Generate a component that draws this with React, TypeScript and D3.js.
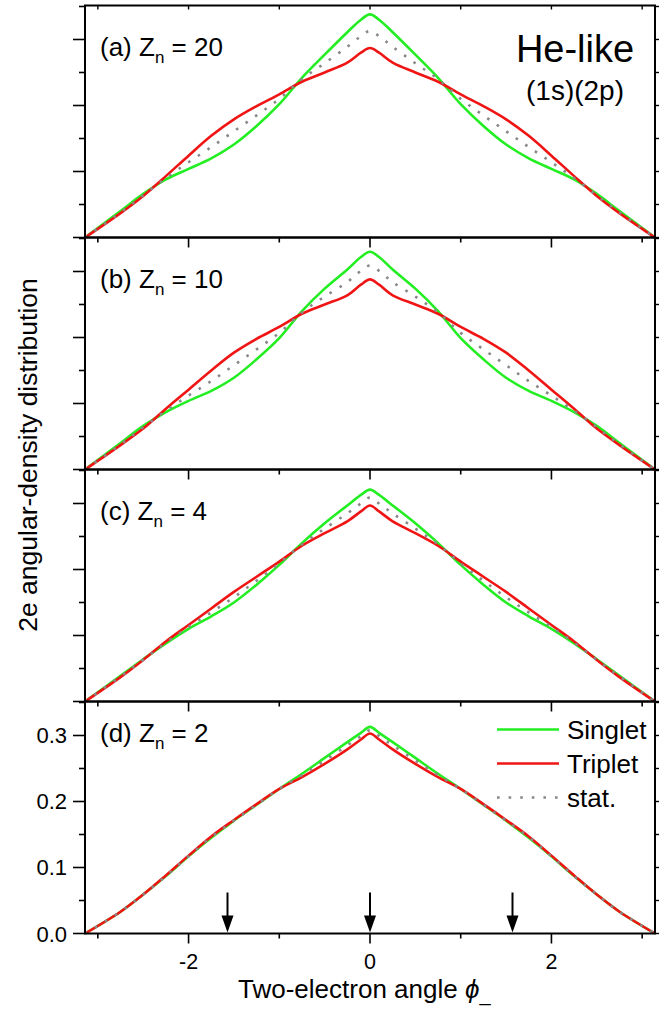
import React from 'react'
import * as d3 from 'd3'

// two-electron angle grid (rad)
const phi = [-3.1416, -2.75, -2.5, -2.25, -2, -1.75, -1.5, -1.25, -1, -0.75, -0.5, -0.25, -0.1, 0,
  0.1, 0.25, 0.5, 0.75, 1, 1.25, 1.5, 1.75, 2, 2.25, 2.5, 2.75, 3.1416]

// (a) Zn = 20
const singletA = [0, .040, .066, .088, .104, .120, .141, .169, .202, .242, .277, .311, .330, .338,
  .330, .311, .277, .242, .202, .169, .141, .120, .104, .088, .066, .040, 0]
const tripletA = [0, .037, .063, .093, .124, .154, .179, .199, .217, .236, .250, .265, .280, .287,
  .280, .265, .250, .236, .217, .199, .179, .154, .124, .093, .063, .037, 0]
const statA = [0, .038, .064, .090, .114, .137, .161, .185, .210, .240, .264, .289, .305, .313,
  .305, .289, .264, .240, .210, .185, .161, .137, .114, .090, .064, .038, 0]

// (b) Zn = 10
const singletB = [0, .040, .066, .087, .104, .119, .139, .167, .199, .240, .274, .303, .322, .330,
  .322, .303, .274, .240, .199, .167, .139, .119, .104, .087, .066, .040, 0]
const tripletB = [0, .037, .062, .092, .121, .150, .177, .198, .216, .236, .250, .264, .280, .288,
  .280, .264, .250, .236, .216, .198, .177, .150, .121, .092, .062, .037, 0]
const statB = [0, .038, .064, .089, .112, .134, .158, .182, .207, .238, .262, .284, .301, .309,
  .301, .284, .262, .238, .207, .182, .158, .134, .112, .089, .064, .038, 0]

// (c) Zn = 4
const singletC = [0, .039, .064, .088, .110, .129, .150, .177, .207, .240, .270, .297, .313, .321,
  .313, .297, .270, .240, .207, .177, .150, .129, .110, .088, .064, .039, 0]
const tripletC = [0, .037, .063, .091, .116, .141, .166, .189, .212, .236, .255, .273, .288, .297,
  .288, .273, .255, .236, .212, .189, .166, .141, .116, .091, .063, .037, 0]
const statC = [0, .038, .063, .089, .113, .135, .158, .183, .209, .238, .262, .285, .300, .309,
  .300, .285, .262, .238, .209, .183, .158, .135, .113, .089, .063, .038, 0]

// (d) Zn = 2
const singletD = [0, .033, .059, .087, .117, .145, .171, .195, .219, .242, .266, .290, .304, .313,
  .304, .290, .266, .242, .219, .195, .171, .145, .117, .087, .059, .033, 0]
const tripletD = [0, .033, .059, .088, .118, .147, .172, .196, .219, .237, .257, .279, .294, .303,
  .294, .279, .257, .237, .219, .196, .172, .147, .118, .088, .059, .033, 0]
const statD = [0, .033, .059, .087, .117, .146, .171, .195, .219, .240, .262, .285, .299, .308,
  .299, .285, .262, .240, .219, .195, .171, .146, .117, .087, .059, .033, 0]

const panelLetters = ['(a)', '(b)', '(c)', '(d)']
const znValues = ['20', '10', '4', '2']
const xMajor = [-2, 0, 2]
const xMinor = [-3, -1, 1, 3]
const yMajor = [0, 0.1, 0.2, 0.3]
const yMinor = [0.05, 0.15, 0.25, 0.35]
const arrowsAt = [-Math.PI / 2, 0, Math.PI / 2]
const legendNames = ['Singlet', 'Triplet', 'stat.']

const GREEN = '#22ee22'
const RED = '#f01515'
const GRAY = '#888888'
const FONT = 'Liberation Sans, Arial, Helvetica, sans-serif'

export default function App() {
  const W = 670, H = 1012
  const left = 85, right = 655
  const top0 = 5.5, panelH = 232
  const x = d3.scaleLinear().domain([-Math.PI, Math.PI]).range([left, right])

  const series = [
    [singletA, tripletA, statA],
    [singletB, tripletB, statB],
    [singletC, tripletC, statC],
    [singletD, tripletD, statD],
  ]

  return (
    <svg width={W} height={H} style={{ position: 'absolute', left: 0, top: 0, background: '#fff' }}
      fontFamily={FONT}>
      {series.map((s, i) => {
        const top = top0 + i * panelH
        const bottom = top + panelH
        const y = d3.scaleLinear().domain([0, 0.3515]).range([bottom, top])
        const line = (vals: number[]) =>
          d3.line<number>().x((_, k) => x(phi[k])).y(d => y(d)).curve(d3.curveCatmullRom.alpha(0.5))(vals) || ''
        const isLast = i === 3
        return (
          <g key={i}>
            {/* curves */}
            <path d={line(s[0])} fill="none" stroke={GREEN} strokeWidth={2.6} />
            <path d={line(s[1])} fill="none" stroke={RED} strokeWidth={2.6} />
            <path d={line(s[2])} fill="none" stroke={GRAY} strokeWidth={2.6} strokeDasharray="2.6,9" />
            {/* frame */}
            <rect x={left} y={top} width={right - left} height={panelH} fill="none" stroke="#000" strokeWidth={2} />
            {/* left ticks */}
            {yMajor.map(v => (
              <line key={'ym' + v} x1={left - 12} x2={left} y1={y(v)} y2={y(v)} stroke="#000" strokeWidth={1.6} />
            ))}
            {yMinor.map(v => (
              <line key={'yn' + v} x1={left - 6} x2={left} y1={y(v)} y2={y(v)} stroke="#000" strokeWidth={1.6} />
            ))}
            {/* right ticks */}
            {yMajor.concat(yMinor).map(v => (
              <line key={'yr' + v} x1={right} x2={right + 4} y1={y(v)} y2={y(v)} stroke="#000" strokeWidth={1.4} />
            ))}
            {/* bottom ticks */}
            {xMajor.map(v => (
              <line key={'xm' + v} x1={x(v)} x2={x(v)} y1={bottom} y2={bottom + 10} stroke="#000" strokeWidth={1.6} />
            ))}
            {xMinor.map(v => (
              <line key={'xn' + v} x1={x(v)} x2={x(v)} y1={bottom} y2={bottom + 5} stroke="#000" strokeWidth={1.6} />
            ))}
            {i === 0 && xMajor.concat(xMinor).map(v => (
              <line key={'xt' + v} x1={x(v)} x2={x(v)} y1={top} y2={top + 4} stroke="#000" strokeWidth={1.4} />
            ))}
            {/* panel label */}
            <text x={100} y={top + (isLast ? 40 : 50)} fontSize={26}>
              {panelLetters[i]} Z<tspan fontSize={17} dy={7}>n</tspan><tspan dy={-7}> = {znValues[i]}</tspan>
            </text>
            {isLast && yMajor.map(v => (
              <text key={'yl' + v} x={67} y={y(v) + 8} fontSize={22} textAnchor="end">{d3.format('.1f')(v)}</text>
            ))}
            {isLast && xMajor.map(v => (
              <text key={'xl' + v} x={x(v)} y={bottom + 35} fontSize={21.5} textAnchor="middle">{v}</text>
            ))}
            {isLast && arrowsAt.map(v => (
              <g key={'ar' + v}>
                <line x1={x(v)} x2={x(v)} y1={bottom - 41} y2={bottom - 14} stroke="#000" strokeWidth={2} />
                <path d={`M${x(v) - 6},${bottom - 18} L${x(v) + 6},${bottom - 18} L${x(v)},${bottom - 1} Z`} fill="#000" />
              </g>
            ))}
            {isLast && legendNames.map((name, k) => {
              const ly = top + 28 + k * 34
              const col = [GREEN, RED, GRAY][k]
              return (
                <g key={name}>
                  <line x1={497} x2={559} y1={ly} y2={ly} stroke={col} strokeWidth={2.6}
                    strokeDasharray={k === 2 ? '2.6,9' : undefined} />
                  <text x={567} y={ly + 9} fontSize={26}>{name}</text>
                </g>
              )
            })}
          </g>
        )
      })}
      <text x={575} y={62} fontSize={38} textAnchor="middle">He-like</text>
      <text x={575} y={100} fontSize={28} textAnchor="middle">(1s)(2p)</text>
      <text transform="translate(37,455) rotate(-90)" fontSize={26.5} textAnchor="middle">
        2e angular-density distribution
      </text>
      <text x={238} y={998} fontSize={26}>
        Two-electron angle <tspan fontStyle="italic">ϕ</tspan>
        <tspan fontSize={20} dy={3}>_</tspan>
      </text>
    </svg>
  )
}
